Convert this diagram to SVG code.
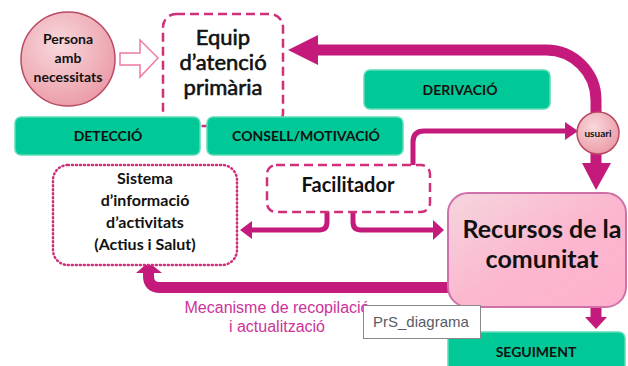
<svg xmlns="http://www.w3.org/2000/svg" width="628" height="366" viewBox="0 0 628 366">
<defs>
<radialGradient id="gPink" cx="0.4" cy="0.35" r="0.7">
<stop offset="0" stop-color="#f8d8dc"/>
<stop offset="1" stop-color="#eb9aa6"/>
</radialGradient>
<linearGradient id="gRec" x1="0" y1="0" x2="1" y2="1">
<stop offset="0" stop-color="#f5d6de"/>
<stop offset="0.5" stop-color="#fbb8cf"/>
<stop offset="1" stop-color="#ffb0cc"/>
</linearGradient>
<style>
.bar{fill:#00c896;stroke:#5fdcb8;stroke-width:1.5}
.lbl{font-family:Lato,"Open Sans",sans-serif;font-weight:700;fill:#111;text-anchor:middle}
.reg{font-family:Lato,"Open Sans",sans-serif;font-weight:400;fill:#111;stroke:#111;stroke-width:0.6;text-anchor:middle}
.mag{fill:#c41a7c}
.ln{fill:none;stroke:#c41a7c}
</style>
</defs>

<g id="equip">
<rect x="163" y="14" width="120" height="112" rx="13" fill="#fff" stroke="#d0307a" stroke-width="2.5" stroke-dasharray="9,5"/>
<text class="reg" x="223" y="45" font-size="22">Equip</text>
<text class="reg" x="223" y="70" font-size="22">d’atenció</text>
<text class="reg" x="223" y="95" font-size="22">primària</text>
</g>

<g id="persona">
<circle cx="68" cy="59" r="47" fill="url(#gPink)" stroke="#b84a64" stroke-width="1.5"/>
<text class="lbl" x="68" y="44" font-size="14">Persona</text>
<text class="lbl" x="68" y="63" font-size="14">amb</text>
<text class="lbl" x="68" y="82" font-size="14">necessitats</text>
</g>

<g id="connectors">
<polygon points="120,53 140,53 140,40 158,58 140,77 140,65 120,65" fill="#fff" stroke="#f07aa0" stroke-width="1.5"/>
<path class="ln" d="M596 165 L596 100 A50 50 0 0 0 546 50 L316 50" stroke-width="11"/>
<polygon class="mag" points="318,35 288,50 318,65"/>
<polygon class="mag" points="582,163 611,163 596,190"/>
<path class="ln" d="M413 166 L413 142 Q413 131 424 131 L566 131" stroke-width="5"/>
<polygon class="mag" points="565,122 578,131 565,140"/>
<path class="ln" d="M327 211 L327 222 Q327 230 319 230 L250 230" stroke-width="5"/>
<polygon class="mag" points="252,221 240,230 252,239"/>
<path class="ln" d="M353 211 L353 222 Q353 230 361 230 L434 230" stroke-width="5"/>
<polygon class="mag" points="433,220 444,230 433,240"/>
<path class="ln" d="M452 287.5 L160 287.5 Q148.5 287.5 148.5 276 L148.5 270" stroke-width="11"/>
<polygon class="mag" points="136,273 148.5,262 162,273"/>
<path class="ln" d="M596 305 L596 318" stroke-width="11"/>
<polygon class="mag" points="585,317 607,317 596,329"/>
</g>

<g id="detecció">
<rect class="bar" x="15" y="117" width="185" height="38" rx="6"/>
<text class="lbl" x="108" y="141" font-size="14">DETECCIÓ</text>
</g>
<g id="consell">
<rect class="bar" x="207" y="117" width="196" height="38" rx="6"/>
<text class="lbl" x="306" y="141" font-size="14">CONSELL/MOTIVACIÓ</text>
</g>
<g id="derivació">
<rect class="bar" x="364" y="70" width="186" height="39" rx="6"/>
<text class="lbl" x="460" y="95" font-size="14">DERIVACIÓ</text>
</g>

<g id="usuari">
<circle cx="598" cy="133" r="21" fill="url(#gPink)" stroke="#b84a64" stroke-width="1.5"/>
<text class="lbl" x="598" y="137" font-size="10">usuari</text>
</g>

<g id="facilitador">
<rect x="267" y="165" width="163" height="47" rx="9" fill="#fff" stroke="#d0307a" stroke-width="2.5" stroke-dasharray="9,5"/>
<text class="lbl" x="348" y="192" font-size="20">Facilitador</text>
</g>

<g id="sistema">
<rect x="53" y="165" width="184" height="100" rx="15" fill="#fff" stroke="#d0307a" stroke-width="2.5" stroke-dasharray="1,3" stroke-linecap="round"/>
<text class="lbl" x="145" y="184" font-size="16">Sistema</text>
<text class="lbl" x="145" y="206" font-size="16">d’informació</text>
<text class="lbl" x="145" y="228" font-size="16">d’activitats</text>
<text class="lbl" x="145" y="250" font-size="16">(Actius i Salut)</text>
</g>

<g id="recursos">
<rect x="448" y="193" width="178" height="114" rx="20" fill="url(#gRec)" stroke="#d070a8" stroke-width="2"/>
<text class="lbl" x="542" y="238" font-size="25">Recursos de la</text>
<text class="lbl" x="542" y="268" font-size="25">comunitat</text>
</g>

<g id="seguiment">
<rect class="bar" x="448" y="332" width="177" height="40" rx="6"/>
<text class="lbl" x="536" y="357" font-size="14">SEGUIMENT</text>
</g>

<g id="mecanisme">
<text x="277" y="313" font-family="Liberation Sans, Arial, sans-serif" font-size="16" fill="#cc3399" text-anchor="middle">Mecanisme de recopilació</text>
<text x="277" y="332" font-family="Liberation Sans, Arial, sans-serif" font-size="16" fill="#cc3399" text-anchor="middle">i actualització</text>
</g>

<g id="tooltip">
<rect x="363.5" y="305.5" width="117" height="33" fill="#fff" stroke="#8a8a8a" stroke-width="1"/>
<text x="373" y="327" font-family="Liberation Sans, Arial, sans-serif" font-size="15" fill="#5a5a66">PrS_diagrama</text>
</g>
</svg>
